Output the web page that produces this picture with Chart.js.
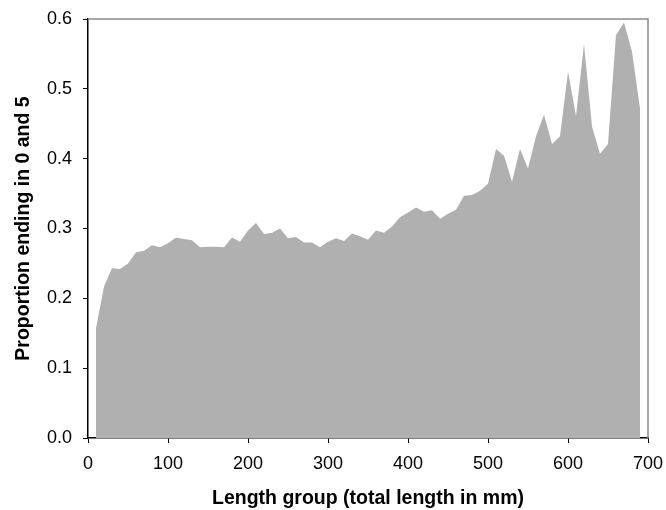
<!DOCTYPE html>
<html>
<head>
<meta charset="utf-8">
<script src="https://cdn.jsdelivr.net/npm/chart.js@4.4.1/dist/chart.umd.min.js"></script>
<style>
  html, body { margin: 0; padding: 0; background: #fff; }
  #wrap { width: 666px; height: 510px; }
</style>
</head>
<body>
<div id="wrap"><canvas id="grafica" width="666" height="510"></canvas></div>
<script>
// length groups (mm) and proportion of lengths ending in 0 or 5
const grupos = [10, 20, 30, 40, 50, 60, 70, 80, 90, 100,
  110, 120, 130, 140, 150, 160, 170, 180, 190, 200,
  210, 220, 230, 240, 250, 260, 270, 280, 290, 300,
  310, 320, 330, 340, 350, 360, 370, 380, 390, 400,
  410, 420, 430, 440, 450, 460, 470, 480, 490, 500,
  510, 520, 530, 540, 550, 560, 570, 580, 590, 600,
  610, 620, 630, 640, 650, 660, 670, 680, 690];
const proporcion = [0.157, 0.217, 0.243, 0.242, 0.250, 0.266, 0.268, 0.276, 0.273, 0.279,
  0.287, 0.285, 0.283, 0.273, 0.274, 0.274, 0.273, 0.287, 0.281, 0.297,
  0.308, 0.292, 0.294, 0.300, 0.286, 0.288, 0.280, 0.280, 0.273, 0.281,
  0.286, 0.282, 0.293, 0.289, 0.284, 0.297, 0.294, 0.303, 0.316, 0.323,
  0.330, 0.324, 0.326, 0.314, 0.321, 0.327, 0.347, 0.348, 0.354, 0.364,
  0.414, 0.404, 0.367, 0.414, 0.386, 0.432, 0.463, 0.421, 0.432, 0.525,
  0.461, 0.564, 0.446, 0.407, 0.421, 0.577, 0.595, 0.553, 0.472];
const ticksX = [0, 100, 200, 300, 400, 500, 600, 700];
const ticksY = [0, 0.1, 0.2, 0.3, 0.4, 0.5, 0.6];

const fuente = "'Liberation Sans', Arial, sans-serif";

// grey frame on top and right of the plot area
const marco = {
  id: 'marco',
  afterDatasetsDraw(chart) {
    const { ctx, chartArea: a } = chart;
    ctx.save();
    ctx.strokeStyle = '#8a8a8a';
    ctx.lineWidth = 1.5;
    ctx.beginPath();
    ctx.moveTo(a.left, a.top);
    ctx.lineTo(a.right, a.top);
    ctx.lineTo(a.right, a.bottom);
    ctx.stroke();
    ctx.restore();
  }
};

let grafica1 = document.getElementById('grafica').getContext('2d');
let chart = new Chart(grafica1, {
  type: 'line',
  data: {
    datasets: [{
      data: grupos.map((g, i) => ({ x: g, y: proporcion[i] })),
      fill: 'origin',
      backgroundColor: '#b0b0b0',
      borderColor: 'rgba(0,0,0,0)',
      borderWidth: 0,
      pointRadius: 0,
      tension: 0
    }]
  },
  options: {
    responsive: false,
    animation: false,
    layout: { padding: { top: 19, right: 18, left: 0, bottom: 0 } },
    plugins: { legend: { display: false }, tooltip: { enabled: false } },
    scales: {
      x: {
        type: 'linear',
        min: ticksX[0],
        max: ticksX[ticksX.length - 1],
        afterBuildTicks: s => { s.ticks = ticksX.map(v => ({ value: v })); },
        afterFit: s => {
          s.height = 72;
          s.paddingLeft = 0;
          s.paddingRight = 0;
        },
        border: { display: true, color: '#000', width: 1.5 },
        grid: { display: true, drawOnChartArea: false, drawTicks: true, tickLength: 5, color: '#000', lineWidth: 1 },
        ticks: { color: '#000', padding: 10, font: { family: fuente, size: 18 } },
        title: {
          display: true,
          text: 'Length group (total length in mm)',
          color: '#000',
          padding: { top: 0, bottom: 0 },
          font: { family: fuente, size: 19.5, weight: 'bold' }
        }
      },
      y: {
        min: ticksY[0],
        max: ticksY[ticksY.length - 1],
        afterBuildTicks: s => { s.ticks = ticksY.map(v => ({ value: v })); },
        afterFit: s => {
          s.width = 88;
          s.paddingTop = 0;
          s.paddingBottom = 0;
        },
        border: { display: true, color: '#000', width: 1.5 },
        grid: { display: true, drawOnChartArea: false, drawTicks: true, tickLength: 5, color: '#000', lineWidth: 1 },
        ticks: {
          color: '#000',
          padding: 11,
          font: { family: fuente, size: 18 },
          callback: v => v.toFixed(1)
        },
        title: {
          display: true,
          text: 'Proportion ending in 0 and 5',
          color: '#000',
          padding: { top: 12, bottom: 0 },
          font: { family: fuente, size: 19.5, weight: 'bold' }
        }
      }
    }
  },
  plugins: [marco]
});
</script>
</body>
</html>
